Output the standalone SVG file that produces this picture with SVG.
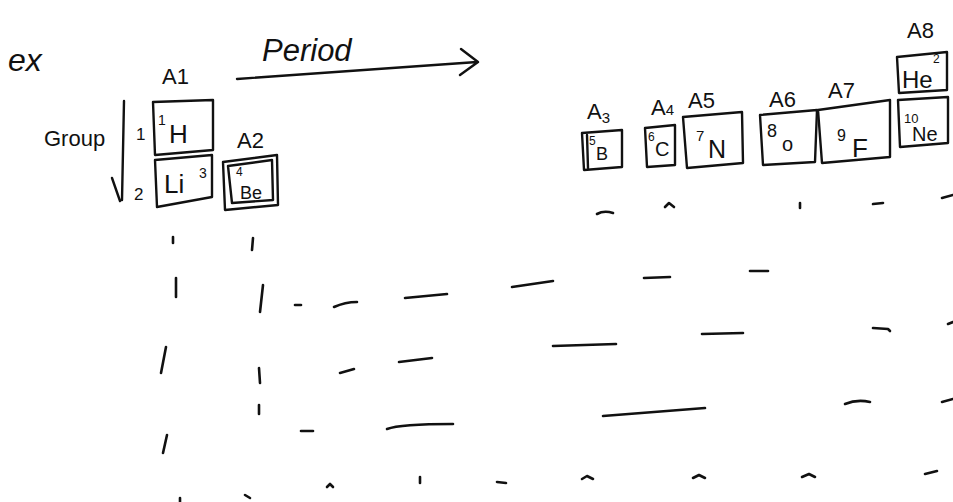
<svg xmlns="http://www.w3.org/2000/svg" width="953" height="502" viewBox="0 0 953 502">
<style>
text{font-family:"Liberation Sans","DejaVu Sans",sans-serif;fill:#111}
.box{fill:none;stroke:#111;stroke-width:2.4;stroke-linejoin:round}
.ln{fill:none;stroke:#111;stroke-width:2.4;stroke-linecap:round;stroke-linejoin:round}
.mk{fill:none;stroke:#111;stroke-width:2.6;stroke-linecap:round;stroke-linejoin:round}
.lbl{font-size:22px}
.sym{font-size:26px}
.sup{font-size:14px}
</style>
<rect width="953" height="502" fill="#fff"/>
<text x="8" y="71" font-size="32" font-style="italic">ex</text>
<text x="262" y="61" font-size="31" font-style="italic">Period</text>
<text x="44" y="146" font-size="22">Group</text>
<text x="136" y="140" font-size="17">1</text>
<text x="134" y="200" font-size="17">2</text>
<g id="labels">
<text class="lbl" x="162" y="84">A1</text>
<text class="lbl" x="237" y="148">A2</text>
<text class="lbl" x="587" y="119">A<tspan font-size="15" dy="4">3</tspan></text>
<text class="lbl" x="651" y="115">A<tspan font-size="15">4</tspan></text>
<text class="lbl" x="688" y="108">A5</text>
<text class="lbl" x="769" y="107">A6</text>
<text class="lbl" x="828" y="98">A7</text>
<text class="lbl" x="907" y="38">A8</text>
</g>
<g id="connectors">
<path class="ln" d="M237 79 L477 62 M461 49 L478 62 L460 75"/>
<path class="ln" d="M124 101 L122 200 M112 178 L120 201"/>
</g>
<g id="H"><path class="box" d="M153 102 L213 100 L213 150 L155 155 Z"/><text class="sup" x="158" y="125">1</text><text class="sym" x="169" y="143">H</text></g>
<g id="Li"><path class="box" d="M155 160 L212 155 L212 197 L157 207 Z"/><text class="sym" x="164" y="193">Li</text><text class="sup" x="199" y="178">3</text></g>
<g id="Be"><path class="box" d="M223 162 L277 155 L278 205 L225 210 Z"/><path class="box" d="M228 166 L272 160 L273 200 L232 203 Z"/><text font-size="12" x="236" y="176">4</text><text font-size="18" x="240" y="199">Be</text></g>
<g id="B"><path class="box" d="M582 133 L622 130 L622 167 L584 170 Z"/><path class="ln" d="M587 135 L588 168"/><text font-size="12" x="589" y="145">5</text><text font-size="18" x="596" y="160">B</text></g>
<g id="C"><path class="box" d="M645 128 L675 125 L675 165 L647 167 Z"/><text font-size="12" x="648" y="141">6</text><text font-size="20" x="655" y="156">C</text></g>
<g id="N"><path class="box" d="M683 117 L742 112 L743 163 L687 168 Z"/><text font-size="15" x="696" y="141">7</text><text font-size="25" x="708" y="158">N</text></g>
<g id="O"><path class="box" d="M760 115 L817 110 L815 162 L763 165 Z"/><text font-size="18" x="767" y="137">8</text><text font-size="20" x="782" y="151">o</text></g>
<g id="F"><path class="box" d="M818 110 L890 100 L890 157 L822 163 Z"/><text font-size="16" x="837" y="141">9</text><text font-size="26" x="852" y="157">F</text></g>
<g id="He"><path class="box" d="M897 57 L947 52 L947 90 L899 93 Z"/><text font-size="24" x="902" y="88">He</text><text font-size="12" x="933" y="63">2</text></g>
<g id="Ne"><path class="box" d="M898 100 L948 97 L948 143 L900 147 Z"/><text font-size="13" x="904" y="123">10</text><text font-size="20" x="912" y="141">Ne</text></g>
<g id="marks">
<path class="mk" d="M597 214 Q604 210 613 213"/>
<path class="mk" d="M665 207 L669 203 L674 207"/>
<path class="mk" d="M800 203 L800 208"/>
<path class="mk" d="M873 204 L883 203"/>
<path class="mk" d="M942 198 L953 195"/>
<path class="mk" d="M173 237 L173 243"/>
<path class="mk" d="M253 238 L252 250"/>
<path class="mk" d="M176 278 L176 297"/>
<path class="mk" d="M263 285 L260 312"/>
<path class="mk" d="M295 305 L301 305"/>
<path class="mk" d="M334 307 Q345 302 357 302"/>
<path class="mk" d="M405 298 L447 294"/>
<path class="mk" d="M512 287 L553 281"/>
<path class="mk" d="M644 278 L670 277"/>
<path class="mk" d="M750 271 L768 271"/>
<path class="mk" d="M166 347 L161 373"/>
<path class="mk" d="M259 368 L260 383"/>
<path class="mk" d="M340 373 L354 369"/>
<path class="mk" d="M399 362 L432 358"/>
<path class="mk" d="M553 346 L616 344"/>
<path class="mk" d="M702 334 L743 333"/>
<path class="mk" d="M873 328 L888 329 L890 331"/>
<path class="mk" d="M948 324 L953 322"/>
<path class="mk" d="M259 405 L259 414"/>
<path class="mk" d="M301 431 L313 431"/>
<path class="mk" d="M387 429 Q400 424 453 424"/>
<path class="mk" d="M603 416 L705 408"/>
<path class="mk" d="M845 404 Q857 399 870 402"/>
<path class="mk" d="M942 402 L953 399"/>
<path class="mk" d="M167 435 L163 453"/>
<path class="mk" d="M327 487 L330 484 L333 487"/>
<path class="mk" d="M420 477 L420 483"/>
<path class="mk" d="M497 482 L506 483"/>
<path class="mk" d="M582 479 L587 476 L593 479"/>
<path class="mk" d="M693 478 L699 475 L705 478"/>
<path class="mk" d="M802 477 L809 474 L815 477"/>
<path class="mk" d="M925 474 L937 471"/>
<path class="mk" d="M180 498 L180 502"/>
<path class="mk" d="M245 495 L250 498"/>
</g>
</svg>
